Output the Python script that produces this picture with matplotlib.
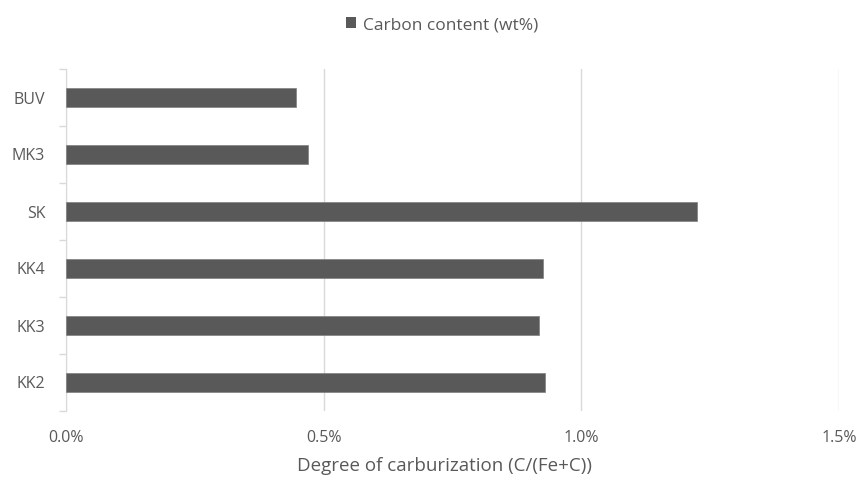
import numpy as np
import matplotlib.pyplot as plt
from matplotlib.ticker import PercentFormatter, FixedLocator
from matplotlib.patches import Patch

plt.rcParams['font.family'] = ['Open Sans', 'DejaVu Sans']

# data (bottom to top)
samples = ["KK2", "KK3", "KK4", "SK", "MK3", "BUV"]
carbon = [0.929, 0.918, 0.926, 1.225, 0.470, 0.446]

text_col = "#595959"
bar_col = "#595959"
grid_col = "#d9d9d9"

fig = plt.figure(figsize=(8.59, 4.84), dpi=100)
ax = fig.add_axes([66 / 859, 1 - 411 / 484, (839 - 66) / 859, (411 - 69) / 484])

y = np.arange(len(samples))
ax.barh(y, carbon, height=0.35, color=bar_col, edgecolor="#7f7f7f", linewidth=0.5, zorder=3)

ax.set_xlim(0, 1.5)
ax.set_ylim(-0.5, len(samples) - 0.5)
ax.set_xticks([0, 0.5, 1.0, 1.5])
ax.xaxis.set_major_formatter(PercentFormatter(decimals=1))
ax.grid(axis="x", color=grid_col, linewidth=1, zorder=0)

ax.set_yticks(y)
ax.set_yticklabels(samples)
ax.yaxis.set_minor_locator(FixedLocator(np.arange(-0.5, len(samples), 1.0)))
ax.tick_params(axis="y", which="major", length=0, pad=15, labelsize=11.5, labelcolor=text_col)
ax.tick_params(axis="y", which="minor", length=5, color=grid_col, width=1)
ax.tick_params(axis="x", length=0, pad=14, labelsize=11.5, labelcolor=text_col)

for s in ["top", "right", "bottom"]:
    ax.spines[s].set_visible(False)
ax.spines["left"].set_color(grid_col)

# axis title, centred like the original layout
fig.text(445 / 859, 1 - 466 / 484, "Degree of carburization (C/(Fe+C))",
         ha="center", va="center", fontsize=13.5, color=text_col)

fig.legend(handles=[Patch(facecolor=bar_col, label="Carbon content (wt%)")],
           loc="center", bbox_to_anchor=(442 / 859, 1 - 25 / 484), frameon=False,
           fontsize=12.5, labelcolor=text_col, handlelength=0.55, handleheight=0.6,
           handletextpad=0.4)

fig.savefig("out.png", dpi=100)
